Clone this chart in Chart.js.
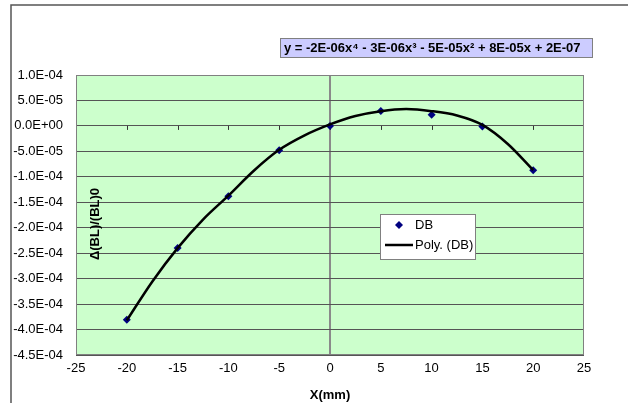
<!DOCTYPE html>
<html>
<head>
<meta charset="utf-8">
<script src="https://cdn.jsdelivr.net/npm/chart.js@4"></script>
<style>
  html, body { margin: 0; padding: 0; background: #fff; }
  #wrap { width: 628px; height: 403px; }
</style>
</head>
<body>
<div id="wrap"><canvas id="myChart" width="628" height="403"></canvas></div>
<script>
// measured points (DB)
const xPoints = [-20, -15, -10, -5, 0, 5, 10, 15, 20];
const dbValues = [-3.81e-4, -2.40e-4, -1.38e-4, -4.8e-5, 0, 2.95e-5, 2.2e-5, -1e-6, -8.7e-5];

// polynomial trendline
const fitX = [-20, -17.5, -15, -12.5, -10, -7.5, -5, -2.5, 0, 2.5, 5, 7.5, 10, 12.5, 15, 17.5, 20];
const fitValues = [-3.82e-4, -3.06e-4, -2.40e-4, -1.84e-4, -1.37e-4, -8.8e-5, -4.7e-5, -1.85e-5, 3e-6,
  1.95e-5, 2.9e-5, 3.3e-5, 2.9e-5, 2.05e-5, 2e-6, -3.55e-5, -8.7e-5];

// axis ticks
const xTicks = [-25, -20, -15, -10, -5, 0, 5, 10, 15, 20, 25];
const yTicks = [1e-4, 5e-5, 0, -5e-5, -1e-4, -1.5e-4, -2e-4, -2.5e-4, -3e-4, -3.5e-4, -4e-4, -4.5e-4];

const equation = 'y = -2E-06x\u2074 - 3E-06x\u00b3 - 5E-05x\u00b2 + 8E-05x + 2E-07';
const FONT = '"Liberation Sans", Arial, sans-serif';

function sci(v) {
  if (Math.abs(v) < 1e-12) return '0.0E+00';
  let parts = v.toExponential(1).split('e');
  let e = parseInt(parts[1], 10);
  let es = (e < 0 ? '-' : '+') + String(Math.abs(e)).padStart(2, '0');
  return parts[0] + 'E' + es;
}

const decor = {
  id: 'decor',
  beforeDraw(chart) {
    const c = chart.ctx, a = chart.chartArea;
    c.save();
    c.fillStyle = '#fff';
    c.fillRect(0, 0, chart.width, chart.height);
    // chart frame (only top and left edges visible)
    c.strokeStyle = '#555';
    c.lineWidth = 1.5;
    c.beginPath();
    c.moveTo(11, chart.height);
    c.lineTo(11, 5);
    c.lineTo(chart.width, 5);
    c.stroke();
    c.fillStyle = '#CCFFCC';
    c.fillRect(a.left, a.top, a.right - a.left, a.bottom - a.top);
    c.restore();
  },
  beforeDatasetsDraw(chart) {
    const c = chart.ctx, a = chart.chartArea;
    const xs = chart.scales.x, ys = chart.scales.y;
    const y0 = ys.getPixelForValue(0);
    c.save();
    // plot border
    c.strokeStyle = '#808080';
    c.lineWidth = 1;
    c.strokeRect(a.left + 0.5, a.top + 0.5, a.right - a.left - 1, a.bottom - a.top - 1);
    // x axis at y=0 with tick marks
    c.strokeStyle = '#333';
    c.beginPath();
    xTicks.slice(1, -1).forEach(t => {
      let px = Math.round(xs.getPixelForValue(t)) + 0.5;
      c.moveTo(px, y0);
      c.lineTo(px, y0 + 4);
    });
    c.stroke();
    // y axis title inside the plot
    c.translate(95, 224);
    c.rotate(-Math.PI / 2);
    c.fillStyle = '#000';
    c.font = 'bold 13px ' + FONT;
    c.textAlign = 'center';
    c.textBaseline = 'middle';
    c.fillText('\u0394(BL)/(BL)0', 0, 0);
    c.restore();
  },
  afterDraw(chart) {
    const c = chart.ctx;
    c.save();
    // equation box
    c.font = 'bold 13px ' + FONT;
    let w = c.measureText(equation).width;
    let bx = 280, by = 38, bw = Math.max(312, w + 8), bh = 19;
    c.fillStyle = '#CCCCFF';
    c.fillRect(bx, by, bw, bh);
    c.strokeStyle = '#808080';
    c.lineWidth = 1;
    c.strokeRect(bx + 0.5, by + 0.5, bw, bh);
    c.fillStyle = '#000';
    c.textBaseline = 'middle';
    c.fillText(equation, bx + 4, by + bh / 2 + 1);

    // legend
    let lx = 380, ly = 214, lw = 95, lh = 45;
    c.fillStyle = '#fff';
    c.fillRect(lx, ly, lw, lh);
    c.strokeStyle = '#808080';
    c.strokeRect(lx + 0.5, ly + 0.5, lw, lh);
    c.fillStyle = '#000080';
    c.beginPath();
    c.moveTo(399, 221);
    c.lineTo(403, 225);
    c.lineTo(399, 229);
    c.lineTo(395, 225);
    c.closePath();
    c.fill();
    c.strokeStyle = '#000';
    c.lineWidth = 2.5;
    c.beginPath();
    c.moveTo(385, 245);
    c.lineTo(413, 245);
    c.stroke();
    c.fillStyle = '#000';
    c.font = '13px ' + FONT;
    c.fillText('DB', 415, 225);
    c.fillText('Poly. (DB)', 415, 245);
    c.restore();
  }
};

const ctx = document.getElementById('myChart').getContext('2d');
const myChart = new Chart(ctx, {
  type: 'scatter',
  data: {
    datasets: [{
      label: 'Poly. (DB)',
      data: fitX.map((x, i) => ({ x: x, y: fitValues[i] })),
      showLine: true,
      borderColor: '#000',
      borderWidth: 2.5,
      pointRadius: 0,
      cubicInterpolationMode: 'monotone',
      order: 0
    }, {
      label: 'DB',
      data: xPoints.map((x, i) => ({ x: x, y: dbValues[i] })),
      showLine: false,
      pointStyle: 'rectRot',
      pointRadius: 4,
      backgroundColor: '#000080',
      borderColor: '#000080',
      borderWidth: 0,
      order: 1
    }]
  },
  options: {
    responsive: false,
    animation: false,
    events: [],
    layout: { padding: { left: 0, right: 44, top: 75, bottom: 0 } },
    plugins: { legend: { display: false }, tooltip: { enabled: false } },
    scales: {
      x: {
        type: 'linear',
        min: xTicks[0],
        max: xTicks[xTicks.length - 1],
        afterBuildTicks: s => { s.ticks = xTicks.map(v => ({ value: v })); },
        afterFit: s => { s.height = 48; },
        border: { display: false },
        grid: {
          drawTicks: false,
          color: c => (c.tick && c.tick.value === 0) ? '#8a8a8a' : 'rgba(0,0,0,0)',
          lineWidth: c => (c.tick && c.tick.value === 0) ? 2 : 0
        },
        ticks: { color: '#000', padding: 6, font: { family: FONT, size: 13 } },
        title: { display: true, text: 'X(mm)', color: '#000', padding: { top: 1, bottom: 0 },
          font: { family: FONT, size: 13, weight: 'bold' } }
      },
      y: {
        type: 'linear',
        min: yTicks[yTicks.length - 1],
        max: yTicks[0],
        afterBuildTicks: s => { s.ticks = yTicks.slice().reverse().map(v => ({ value: v })); },
        afterFit: s => { s.width = 76; },
        border: { display: false },
        grid: { drawTicks: false, color: '#555', lineWidth: 1 },
        ticks: { color: '#000', padding: 13, callback: v => sci(v), font: { family: FONT, size: 13 } }
      }
    }
  },
  plugins: [decor]
});
</script>
</body>
</html>
